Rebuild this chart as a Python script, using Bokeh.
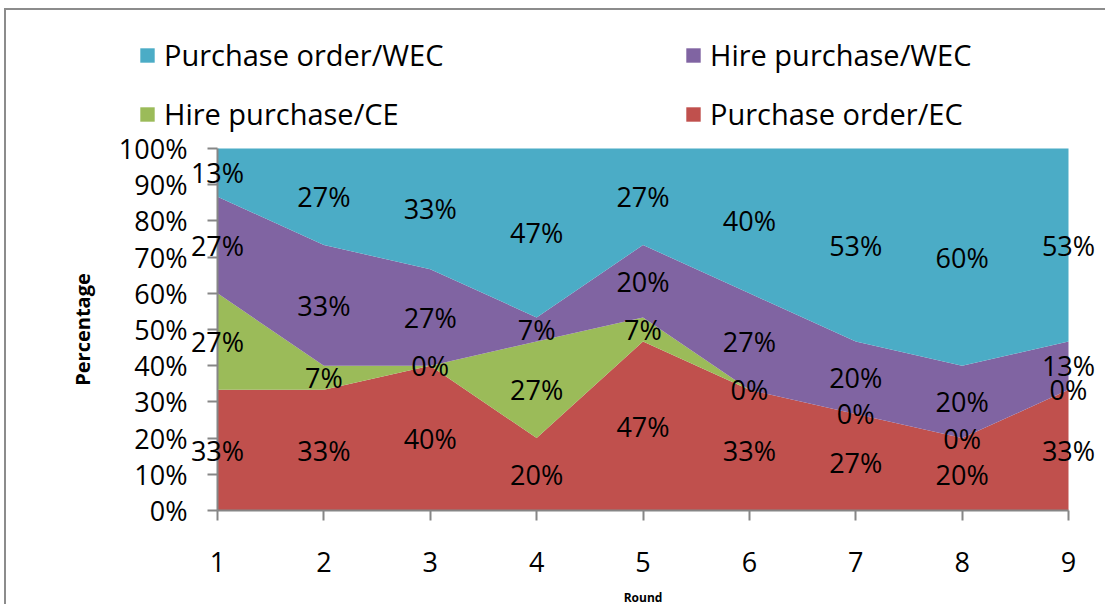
from bokeh.plotting import figure
from bokeh.models import (ColumnDataSource, LabelSet, Legend, LegendItem,
                          FixedTicker, PrintfTickFormatter, Range1d)
from bokeh.core.properties import value
from bokeh.embed import file_html
from bokeh.resources import INLINE

# ---- data (percent of participants per round) ----
rounds = [1, 2, 3, 4, 5, 6, 7, 8, 9]
purchase_order_ec = [33.33, 33.33, 40.00, 20.00, 46.67, 33.33, 26.67, 20.00, 33.33]
hire_purchase_ce = [26.67, 6.67, 0.00, 26.67, 6.67, 0.00, 0.00, 0.00, 0.00]
hire_purchase_wec = [26.67, 33.33, 26.67, 6.67, 20.00, 26.67, 20.00, 20.00, 13.33]
purchase_order_wec = [13.33, 26.67, 33.33, 46.67, 26.67, 40.00, 53.33, 60.00, 53.33]

series_names = ["Purchase order/EC", "Hire purchase/CE", "Hire purchase/WEC", "Purchase order/WEC"]
series_keys = ["po_ec", "hp_ce", "hp_wec", "po_wec"]
series_values = [purchase_order_ec, hire_purchase_ce, hire_purchase_wec, purchase_order_wec]
series_colors = ["#C0504D", "#9BBB59", "#8064A2", "#4BACC6"]
y_ticks = [0, 10, 20, 30, 40, 50, 60, 70, 80, 90, 100]

FONT = "Open Sans"

src = ColumnDataSource(dict(round=rounds, **{k: v for k, v in zip(series_keys, series_values)}))

# pixel layout (the frame fills the canvas; both axes are pinned to the data)
W, H = 1101, 596
PX_PER_ROUND = 851 / 8.0
X0_PX = 211            # canvas x of round 1
PX_PER_PCT = 362 / 100.0
Y100_PX = 138          # canvas y of 100 %
Y0_PX = 500            # canvas y of 0 %

p = figure(width=W, height=H, output_backend="svg", toolbar_location=None,
           x_range=Range1d(rounds[0] - X0_PX / PX_PER_ROUND,
                           rounds[0] + (W - X0_PX) / PX_PER_ROUND),
           y_range=Range1d(-(H - Y0_PX) / PX_PER_PCT, 100 + Y100_PX / PX_PER_PCT),
           min_border_left=0, min_border_right=0, min_border_top=0, min_border_bottom=0)
p.styles = {"border-top": "2px solid #8c8c8c", "border-left": "2px solid #8c8c8c",
            "margin-left": "4px", "margin-top": "8px"}

renderers = p.varea_stack(stackers=series_keys, x="round", color=series_colors, source=src)

# data labels at the middle of each band
lx, ly, lt = [], [], []
bottom = [0.0] * len(rounds)
for vals in series_values:
    for i, v in enumerate(vals):
        lx.append(rounds[i])
        ly.append(bottom[i] + v / 2.0)
        lt.append(f"{round(v)}%")
    bottom = [b + v for b, v in zip(bottom, vals)]
lab_src = ColumnDataSource(dict(x=lx, y=ly, t=lt))
labels = LabelSet(x="x", y="y", text="t", source=lab_src, text_align="center",
                  text_baseline="middle", text_font=value(FONT), text_font_size="27px",
                  text_color="black")
p.add_layout(labels)

# legend: row1 = PO/WEC, HP/WEC ; row2 = HP/CE, PO/EC
rmap = dict(zip(series_names, renderers))
order = ["Purchase order/WEC", "Hire purchase/CE", "Hire purchase/WEC", "Purchase order/EC"]
legend = Legend(items=[LegendItem(label=n, renderers=[rmap[n]]) for n in order],
                location=(132, 473), ncols=2, padding=0, spacing=20, margin=0,
                glyph_width=18, glyph_height=18, label_standoff=8, label_width=500,
                label_text_font=FONT, label_text_font_size="29px", label_text_color="black",
                border_line_color=None, background_fill_alpha=0)
p.add_layout(legend)

# axes
for ax in (p.xaxis[0], p.yaxis[0]):
    ax.axis_line_color = "#868686"
    ax.axis_line_width = 2
    ax.major_tick_line_color = "#868686"
    ax.major_tick_line_width = 2
    ax.major_tick_in = 0
    ax.major_tick_out = 10
    ax.minor_tick_line_color = None
    ax.major_label_text_font = FONT
    ax.major_label_text_font_size = "27px"
    ax.major_label_text_color = "black"
    ax.axis_label_text_font = FONT
    ax.axis_label_text_font_style = "bold"
    ax.axis_label_text_color = "black"

p.xaxis.fixed_location = 0
p.xaxis.ticker = FixedTicker(ticks=rounds)
p.xaxis.bounds = (rounds[0], rounds[-1])
p.xaxis.major_label_standoff = 31
p.xaxis.axis_label = "Round"
p.xaxis.axis_label_text_font_size = "12px"
p.xaxis.axis_label_standoff = 14

p.yaxis.fixed_location = rounds[0]
p.yaxis.bounds = (0, 100)
p.yaxis.ticker = FixedTicker(ticks=y_ticks)
p.yaxis.formatter = PrintfTickFormatter(format="%d%%")
p.yaxis.major_label_standoff = 20
p.yaxis.axis_label = "Percentage"
p.yaxis.axis_label_text_font_size = "20px"
p.yaxis.axis_label_standoff = 20

p.xgrid.visible = False
p.ygrid.visible = False
p.outline_line_color = None

open("out.html", "w").write(file_html(p, INLINE))
